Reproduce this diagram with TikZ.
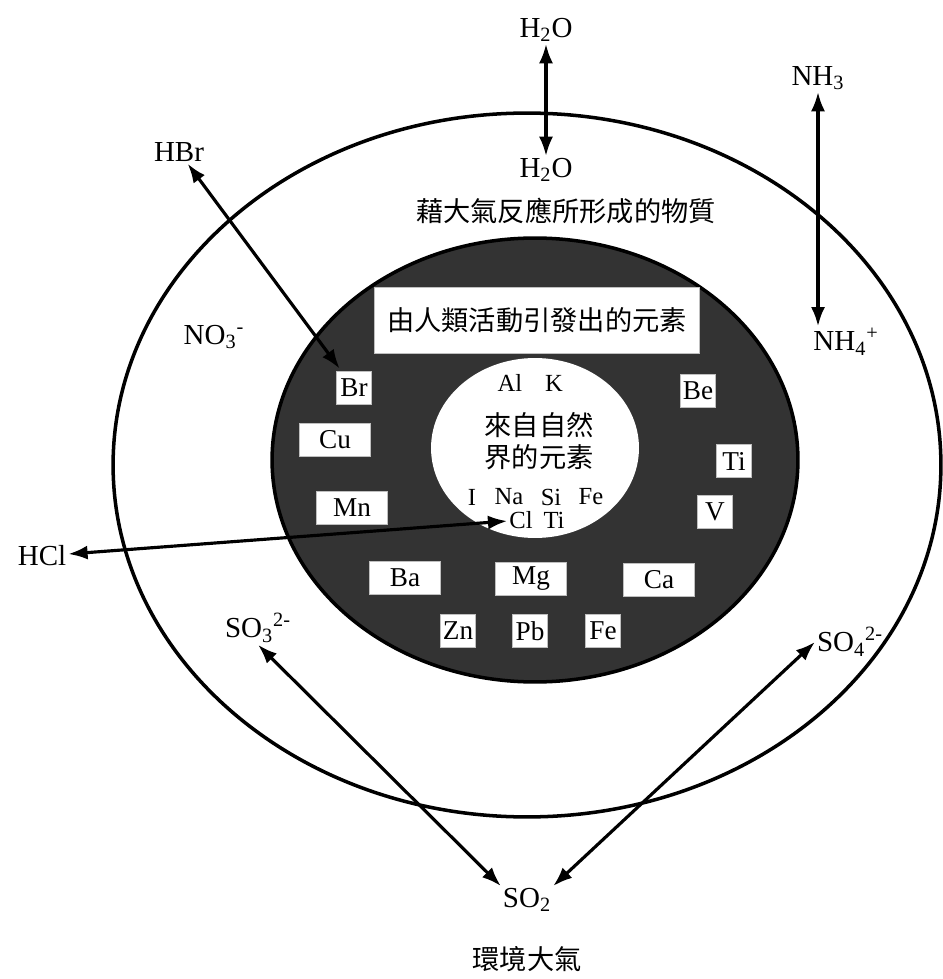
\documentclass[tikz,border=0pt]{standalone}
\usepackage{fontspec}
\setmainfont{Liberation Serif}
\newfontfamily\cjk{Noto Sans CJK TC}
\usetikzlibrary{arrows.meta, positioning}

\begin{document}
\begin{tikzpicture}[
            x=0.02cm, y=-0.02cm,
            >={Latex[length=11pt,width=8pt]},
            chem/.style={font=\fontsize{16.5}{18}\selectfont, inner sep=1pt},
            zh/.style={font=\cjk\fontsize{15.5}{18}\selectfont, inner sep=1pt, align=center},
            natural/.style={font=\fontsize{14}{16}\selectfont, inner sep=1pt},
            elem/.style={rectangle, fill=white, draw=gray!50, line width=0.3pt, minimum width=0.7cm, minimum height=0.65cm, inner sep=0pt, font=\fontsize{15.5}{17}\selectfont},
            wideelem/.style={elem, minimum width=1.42cm},
            arrow/.style={<->, line width=1.8pt},
            ring/.style={line width=2pt}
        ]
\useasboundingbox (0,0) rectangle (942,979);

% Rings
            \draw[ring] (527,465) ellipse [x radius=8.28cm, y radius=7.04cm];
            \draw[ring, fill=black!80] (535,460) ellipse [x radius=5.26cm, y radius=4.44cm];
            \fill[white] (535,448) ellipse [x radius=2.08cm, y radius=1.8cm];

% Nodes
            \node[elem, minimum width=6.5cm, minimum height=1.32cm, font=\cjk\fontsize{15.5}{18}\selectfont] (human) at (537,320) {由人類活動引發出的元素};
            \node[elem] (br) at (354,388) {Br};
            \node[elem] (be) at (698,391) {Be};
            \node[wideelem] (cu) at (335,440) {Cu};
            \node[elem] (tiBox) at (734,461) {Ti};
            \node[wideelem] (mn) at (352,508) {Mn};
            \node[elem] (v) at (715,512) {V};
            \node[wideelem] (ba) at (405,578) {Ba};
            \node[wideelem] (mg) at (531,579) {Mg};
            \node[wideelem] (ca) at (659,580) {Ca};
            \node[elem] (zn) at (458,631) {Zn};
            \node[elem] (pb) at (530,631) {Pb};
            \node[elem] (feBox) at (603,631) {Fe};

            \node[natural] (al) at (510,383) {Al};
            \node[natural] (k) at (554,383) {K};
            \node[zh, font=\cjk\fontsize{15.5}{18.2}\selectfont] (nature) at (539,441) {來自自然\\界的元素};
            \node[natural] (iod) at (472,497) {I};
            \node[natural] (na) at (509,497) {Na};
            \node[natural] (si) at (551,497) {Si};
            \node[natural] (fe) at (591,497) {Fe};
            \node[natural] (cl) at (521,520) {Cl};
            \node[natural] (ti) at (554,520) {Ti};

            \node[chem] (h2oTop) at (546,30) {H\textsubscript{2}O};
            \node[chem] (h2oBot) at (546,170) {H\textsubscript{2}O};
            \node[zh] (formed) at (566,211) {藉大氣反應所形成的物質};
            \node[chem] (nh3) at (818,78) {NH\textsubscript{3}};
            \node[chem] (nh4) at (846,342) {NH\textsubscript{4}\textsuperscript{+}};
            \node[chem] (hbr) at (179,152) {HBr};
            \node[chem] (no3) at (214,337) {NO\textsubscript{3}\textsuperscript{-}};
            \node[chem] (hcl) at (42,556) {HCl};
            \node[chem] (so3) at (258,628) {SO\textsubscript{3}\textsuperscript{2-}};
            \node[chem] (so4) at (850,642) {SO\textsubscript{4}\textsuperscript{2-}};
            \node[chem] (so2) at (527,900) {SO\textsubscript{2}};
            \node[zh, below=0.6cm of so2] (ambient) {環境大氣};

% Edges
            \draw[arrow] (h2oTop) -- (h2oBot);
            \draw[arrow] (nh3) -- (nh3 |- nh4.north);
            \draw[arrow, shorten >=2pt] (hbr) -- (br);
            \draw[arrow] (hcl) -- (cl);
            \draw[arrow] (so3.south) -- (so2.north west);
            \draw[arrow] (so4.west) -- (so2.north east);

        \end{tikzpicture}
\end{document}
